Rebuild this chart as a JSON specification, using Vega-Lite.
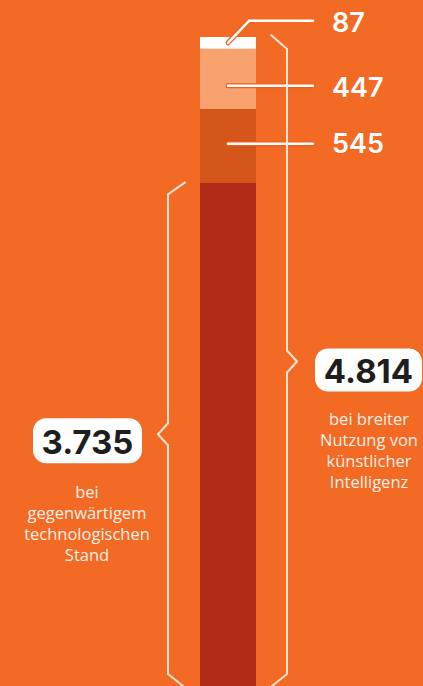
{
 "$schema": "https://vega.github.io/schema/vega-lite/v6.json",
 "width": 423, "height": 686, "autosize": "none", "padding": 0,
 "background": "#F26A23",
 "config": {"view": {"stroke": null}},
 "datasets": {
  "segments": [
   {"segment": "gegenwärtiger Stand", "value": 3735, "order": 1},
   {"segment": "Zuwachs A", "value": 545, "order": 2},
   {"segment": "Zuwachs B", "value": 447, "order": 3},
   {"segment": "Zuwachs C", "value": 87, "order": 4}
  ],
  "totals": [
   {"side": "links", "total": 3735, "label": "3.735", "desc": "bei\ngegenwärtigem\ntechnologischen\nStand"},
   {"side": "rechts", "total": 4814, "label": "4.814", "desc": "bei breiter\nNutzung von\nkünstlicher\nIntelligenz"}
  ]
 },
 "layer": [
  {
   "data": {"name": "segments"},
   "transform": [{"stack": "value", "groupby": [], "sort": [{"field": "order", "order": "ascending"}], "as": ["y0", "y1"]}],
   "mark": {"type": "rect"},
   "encoding": {
    "x": {"datum": 200, "type": "quantitative", "scale": {"domain": [0, 423], "nice": false, "zero": false}, "axis": null},
    "x2": {"datum": 256},
    "y": {"field": "y0", "type": "quantitative", "scale": {"domain": [0, 5088], "nice": false, "zero": false}, "axis": null},
    "y2": {"field": "y1"},
    "color": {"field": "segment", "type": "nominal", "scale": {"domain": ["gegenwärtiger Stand", "Zuwachs A", "Zuwachs B", "Zuwachs C"], "range": ["#B12B18", "#D4561B", "#F7A26F", "#FFFFFF"]}, "legend": null}
   }
  },
  {
   "data": {"name": "segments"},
   "transform": [
    {"stack": "value", "groupby": [], "sort": [{"field": "order", "order": "ascending"}], "as": ["y0", "y1"]},
    {"calculate": "(datum.y0 + datum.y1) / 2", "as": "mid"}
   ],
   "layer": [
    {
     "transform": [{"filter": "datum.order == 2"}],
     "layer": [
      {"mark": {"type": "rule", "color": "#E8631F", "strokeWidth": 5, "strokeCap": "round", "yOffset": -2},
       "encoding": {"x": {"datum": 228, "type": "quantitative", "scale": {"domain": [0, 423], "nice": false, "zero": false}, "axis": null}, "x2": {"datum": 313}, "y": {"field": "mid", "type": "quantitative", "scale": {"domain": [0, 5088], "nice": false, "zero": false}, "axis": null}}},
      {"mark": {"type": "rule", "color": "#FFFFFF", "strokeWidth": 2.5, "strokeCap": "round", "yOffset": -2},
       "encoding": {"x": {"datum": 228, "type": "quantitative", "scale": {"domain": [0, 423], "nice": false, "zero": false}, "axis": null}, "x2": {"datum": 313}, "y": {"field": "mid", "type": "quantitative", "scale": {"domain": [0, 5088], "nice": false, "zero": false}, "axis": null}}},
      {"mark": {"type": "text", "align": "left", "baseline": "alphabetic", "font": "Inter", "fontSize": 27, "fontWeight": 600, "color": "#FFFFFF", "yOffset": 7.6},
       "encoding": {"x": {"datum": 332, "type": "quantitative", "scale": {"domain": [0, 423], "nice": false, "zero": false}, "axis": null}, "y": {"field": "mid", "type": "quantitative", "scale": {"domain": [0, 5088], "nice": false, "zero": false}, "axis": null}, "text": {"field": "value", "type": "quantitative"}}}
     ]
    },
    {
     "transform": [{"filter": "datum.order == 3"}],
     "layer": [
      {"mark": {"type": "rule", "color": "#E8631F", "strokeWidth": 5, "strokeCap": "round", "yOffset": 7},
       "encoding": {"x": {"datum": 228, "type": "quantitative", "scale": {"domain": [0, 423], "nice": false, "zero": false}, "axis": null}, "x2": {"datum": 313}, "y": {"field": "mid", "type": "quantitative", "scale": {"domain": [0, 5088], "nice": false, "zero": false}, "axis": null}}},
      {"mark": {"type": "rule", "color": "#FFFFFF", "strokeWidth": 2.5, "strokeCap": "round", "yOffset": 7},
       "encoding": {"x": {"datum": 228, "type": "quantitative", "scale": {"domain": [0, 423], "nice": false, "zero": false}, "axis": null}, "x2": {"datum": 313}, "y": {"field": "mid", "type": "quantitative", "scale": {"domain": [0, 5088], "nice": false, "zero": false}, "axis": null}}},
      {"mark": {"type": "text", "align": "left", "baseline": "alphabetic", "font": "Inter", "fontSize": 27, "fontWeight": 600, "color": "#FFFFFF", "yOffset": 18.5},
       "encoding": {"x": {"datum": 332, "type": "quantitative", "scale": {"domain": [0, 423], "nice": false, "zero": false}, "axis": null}, "y": {"field": "mid", "type": "quantitative", "scale": {"domain": [0, 5088], "nice": false, "zero": false}, "axis": null}, "text": {"field": "value", "type": "quantitative"}}}
     ]
    },
    {
     "transform": [{"filter": "datum.order == 4"}],
     "layer": [
      {"mark": {"type": "rule", "color": "#E8631F", "strokeWidth": 5, "strokeCap": "round", "y2Offset": -22},
       "encoding": {"x": {"datum": 228, "type": "quantitative", "scale": {"domain": [0, 423], "nice": false, "zero": false}, "axis": null}, "x2": {"datum": 249}, "y": {"field": "mid", "type": "quantitative", "scale": {"domain": [0, 5088], "nice": false, "zero": false}, "axis": null}, "y2": {"field": "mid"}}},
      {"mark": {"type": "rule", "color": "#FFFFFF", "strokeWidth": 2.5, "strokeCap": "round", "y2Offset": -22},
       "encoding": {"x": {"datum": 228, "type": "quantitative", "scale": {"domain": [0, 423], "nice": false, "zero": false}, "axis": null}, "x2": {"datum": 249}, "y": {"field": "mid", "type": "quantitative", "scale": {"domain": [0, 5088], "nice": false, "zero": false}, "axis": null}, "y2": {"field": "mid"}}},
      {"mark": {"type": "rule", "color": "#FFFFFF", "strokeWidth": 2.5, "strokeCap": "round", "yOffset": -22},
       "encoding": {"x": {"datum": 249, "type": "quantitative", "scale": {"domain": [0, 423], "nice": false, "zero": false}, "axis": null}, "x2": {"datum": 313}, "y": {"field": "mid", "type": "quantitative", "scale": {"domain": [0, 5088], "nice": false, "zero": false}, "axis": null}}},
      {"mark": {"type": "text", "align": "left", "baseline": "alphabetic", "font": "Inter", "fontSize": 27, "fontWeight": 600, "color": "#FFFFFF", "yOffset": -11},
       "encoding": {"x": {"datum": 332, "type": "quantitative", "scale": {"domain": [0, 423], "nice": false, "zero": false}, "axis": null}, "y": {"field": "mid", "type": "quantitative", "scale": {"domain": [0, 5088], "nice": false, "zero": false}, "axis": null}, "text": {"field": "value", "type": "quantitative"}}}
     ]
    }
   ]
  },
  {
   "data": {"name": "totals"},
   "transform": [{"filter": "datum.side === 'links'"}, {"calculate": "datum.total / 2", "as": "mid"}],
   "layer": [
    {"mark": {"type": "rule", "color": "#FCE3D4", "strokeWidth": 2, "strokeCap": "round", "y2Offset": 12},
     "encoding": {"x": {"datum": 185, "type": "quantitative", "scale": {"domain": [0, 423], "nice": false, "zero": false}, "axis": null}, "x2": {"datum": 168}, "y": {"field": "total", "type": "quantitative", "scale": {"domain": [0, 5088], "nice": false, "zero": false}, "axis": null}, "y2": {"field": "total"}}},
    {"mark": {"type": "rule", "color": "#FCE3D4", "strokeWidth": 2, "strokeCap": "round", "yOffset": 12, "y2Offset": -11},
     "encoding": {"x": {"datum": 168, "type": "quantitative", "scale": {"domain": [0, 423], "nice": false, "zero": false}, "axis": null}, "y": {"field": "total", "type": "quantitative", "scale": {"domain": [0, 5088], "nice": false, "zero": false}, "axis": null}, "y2": {"field": "mid"}}},
    {"mark": {"type": "rule", "color": "#FCE3D4", "strokeWidth": 2, "strokeCap": "round", "yOffset": -11},
     "encoding": {"x": {"datum": 168, "type": "quantitative", "scale": {"domain": [0, 423], "nice": false, "zero": false}, "axis": null}, "x2": {"datum": 158}, "y": {"field": "mid", "type": "quantitative", "scale": {"domain": [0, 5088], "nice": false, "zero": false}, "axis": null}, "y2": {"field": "mid"}}},
    {"mark": {"type": "rule", "color": "#FCE3D4", "strokeWidth": 2, "strokeCap": "round", "y2Offset": 11},
     "encoding": {"x": {"datum": 158, "type": "quantitative", "scale": {"domain": [0, 423], "nice": false, "zero": false}, "axis": null}, "x2": {"datum": 168}, "y": {"field": "mid", "type": "quantitative", "scale": {"domain": [0, 5088], "nice": false, "zero": false}, "axis": null}, "y2": {"field": "mid"}}},
    {"mark": {"type": "rule", "color": "#FCE3D4", "strokeWidth": 2, "strokeCap": "round", "yOffset": 11, "y2Offset": -12},
     "encoding": {"x": {"datum": 168, "type": "quantitative", "scale": {"domain": [0, 423], "nice": false, "zero": false}, "axis": null}, "y": {"field": "mid", "type": "quantitative", "scale": {"domain": [0, 5088], "nice": false, "zero": false}, "axis": null}, "y2": {"datum": 0}}},
    {"mark": {"type": "rule", "color": "#FCE3D4", "strokeWidth": 2, "strokeCap": "round", "yOffset": -12},
     "encoding": {"x": {"datum": 168, "type": "quantitative", "scale": {"domain": [0, 423], "nice": false, "zero": false}, "axis": null}, "x2": {"datum": 183}, "y": {"datum": 0, "type": "quantitative", "scale": {"domain": [0, 5088], "nice": false, "zero": false}, "axis": null}, "y2": {"datum": 0}}},
    {"mark": {"type": "rect", "color": "#FFFFFF", "cornerRadius": 13, "yOffset": -16, "y2Offset": 29},
     "encoding": {"x": {"datum": 33, "type": "quantitative", "scale": {"domain": [0, 423], "nice": false, "zero": false}, "axis": null}, "x2": {"datum": 142}, "y": {"field": "mid", "type": "quantitative", "scale": {"domain": [0, 5088], "nice": false, "zero": false}, "axis": null}, "y2": {"field": "mid"}}},
    {"mark": {"type": "text", "align": "center", "baseline": "alphabetic", "font": "Inter", "fontSize": 33, "fontWeight": "bold", "color": "#1E1E1E", "yOffset": 20},
     "encoding": {"x": {"datum": 87.5, "type": "quantitative", "scale": {"domain": [0, 423], "nice": false, "zero": false}, "axis": null}, "y": {"field": "mid", "type": "quantitative", "scale": {"domain": [0, 5088], "nice": false, "zero": false}, "axis": null}, "text": {"field": "label", "type": "nominal"}}},
    {"mark": {"type": "text", "align": "center", "baseline": "alphabetic", "font": "Open Sans", "fontSize": 16.5, "fontWeight": 500, "lineBreak": "\n", "lineHeight": 21, "color": "#FFF0E8", "yOffset": 63.7},
     "encoding": {"x": {"datum": 87, "type": "quantitative", "scale": {"domain": [0, 423], "nice": false, "zero": false}, "axis": null}, "y": {"field": "mid", "type": "quantitative", "scale": {"domain": [0, 5088], "nice": false, "zero": false}, "axis": null}, "text": {"field": "desc", "type": "nominal"}}}
   ]
  },
  {
   "data": {"name": "totals"},
   "transform": [{"filter": "datum.side === 'rechts'"}, {"calculate": "datum.total / 2", "as": "mid"}],
   "layer": [
    {"mark": {"type": "rule", "color": "#FCE3D4", "strokeWidth": 2, "strokeCap": "round", "yOffset": -2, "y2Offset": 12},
     "encoding": {"x": {"datum": 271, "type": "quantitative", "scale": {"domain": [0, 423], "nice": false, "zero": false}, "axis": null}, "x2": {"datum": 287}, "y": {"field": "total", "type": "quantitative", "scale": {"domain": [0, 5088], "nice": false, "zero": false}, "axis": null}, "y2": {"field": "total"}}},
    {"mark": {"type": "rule", "color": "#FCE3D4", "strokeWidth": 2, "strokeCap": "round", "yOffset": 12, "y2Offset": -11},
     "encoding": {"x": {"datum": 287, "type": "quantitative", "scale": {"domain": [0, 423], "nice": false, "zero": false}, "axis": null}, "y": {"field": "total", "type": "quantitative", "scale": {"domain": [0, 5088], "nice": false, "zero": false}, "axis": null}, "y2": {"field": "mid"}}},
    {"mark": {"type": "rule", "color": "#FCE3D4", "strokeWidth": 2, "strokeCap": "round", "yOffset": -11},
     "encoding": {"x": {"datum": 287, "type": "quantitative", "scale": {"domain": [0, 423], "nice": false, "zero": false}, "axis": null}, "x2": {"datum": 297}, "y": {"field": "mid", "type": "quantitative", "scale": {"domain": [0, 5088], "nice": false, "zero": false}, "axis": null}, "y2": {"field": "mid"}}},
    {"mark": {"type": "rule", "color": "#FCE3D4", "strokeWidth": 2, "strokeCap": "round", "y2Offset": 11},
     "encoding": {"x": {"datum": 297, "type": "quantitative", "scale": {"domain": [0, 423], "nice": false, "zero": false}, "axis": null}, "x2": {"datum": 287}, "y": {"field": "mid", "type": "quantitative", "scale": {"domain": [0, 5088], "nice": false, "zero": false}, "axis": null}, "y2": {"field": "mid"}}},
    {"mark": {"type": "rule", "color": "#FCE3D4", "strokeWidth": 2, "strokeCap": "round", "yOffset": 11, "y2Offset": -12},
     "encoding": {"x": {"datum": 287, "type": "quantitative", "scale": {"domain": [0, 423], "nice": false, "zero": false}, "axis": null}, "y": {"field": "mid", "type": "quantitative", "scale": {"domain": [0, 5088], "nice": false, "zero": false}, "axis": null}, "y2": {"datum": 0}}},
    {"mark": {"type": "rule", "color": "#FCE3D4", "strokeWidth": 2, "strokeCap": "round", "yOffset": -12},
     "encoding": {"x": {"datum": 287, "type": "quantitative", "scale": {"domain": [0, 423], "nice": false, "zero": false}, "axis": null}, "x2": {"datum": 272}, "y": {"datum": 0, "type": "quantitative", "scale": {"domain": [0, 5088], "nice": false, "zero": false}, "axis": null}, "y2": {"datum": 0}}},
    {"mark": {"type": "rect", "color": "#FFFFFF", "cornerRadius": 13, "yOffset": -13, "y2Offset": 30},
     "encoding": {"x": {"datum": 315, "type": "quantitative", "scale": {"domain": [0, 423], "nice": false, "zero": false}, "axis": null}, "x2": {"datum": 422}, "y": {"field": "mid", "type": "quantitative", "scale": {"domain": [0, 5088], "nice": false, "zero": false}, "axis": null}, "y2": {"field": "mid"}}},
    {"mark": {"type": "text", "align": "center", "baseline": "alphabetic", "font": "Inter", "fontSize": 33, "fontWeight": "bold", "color": "#1E1E1E", "yOffset": 21.8},
     "encoding": {"x": {"datum": 368.5, "type": "quantitative", "scale": {"domain": [0, 423], "nice": false, "zero": false}, "axis": null}, "y": {"field": "mid", "type": "quantitative", "scale": {"domain": [0, 5088], "nice": false, "zero": false}, "axis": null}, "text": {"field": "label", "type": "nominal"}}},
    {"mark": {"type": "text", "align": "center", "baseline": "alphabetic", "font": "Open Sans", "fontSize": 16.5, "fontWeight": 500, "lineBreak": "\n", "lineHeight": 21, "color": "#FFF0E8", "yOffset": 63.5},
     "encoding": {"x": {"datum": 369, "type": "quantitative", "scale": {"domain": [0, 423], "nice": false, "zero": false}, "axis": null}, "y": {"field": "mid", "type": "quantitative", "scale": {"domain": [0, 5088], "nice": false, "zero": false}, "axis": null}, "text": {"field": "desc", "type": "nominal"}}}
   ]
  }
 ]
}
